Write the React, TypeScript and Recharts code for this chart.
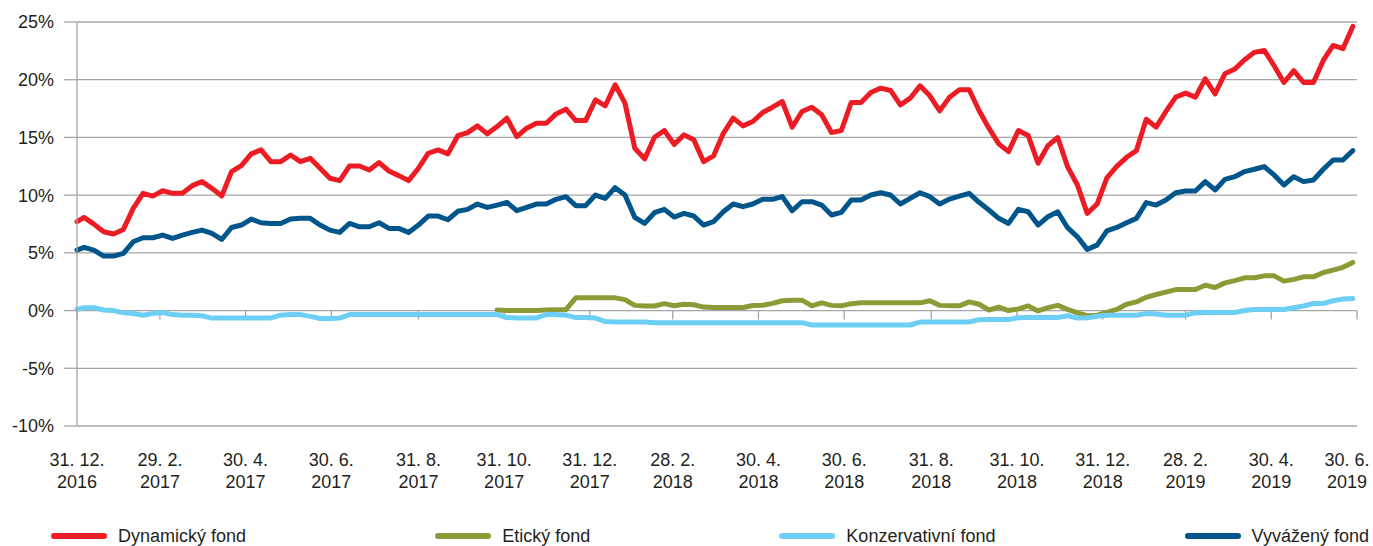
import React from 'react';
import { LineChart, Line, XAxis, YAxis, CartesianGrid, ReferenceLine } from 'recharts';

const W = 1373;
const H = 546;

// x-axis ticks: day offsets from 31. 12. 2016
const tickDays = [0, 59, 120, 181, 243, 304, 365, 424, 485, 546, 608, 669, 730, 789, 850, 911];
const tickTop = ['31. 12.', '29. 2.', '30. 4.', '30. 6.', '31. 8.', '31. 10.', '31. 12.', '28. 2.', '30. 4.', '30. 6.', '31. 8.', '31. 10.', '31. 12.', '28. 2.', '30. 4.', '30. 6.'];
const tickBottom = ['2016', '2017', '2017', '2017', '2017', '2017', '2017', '2018', '2018', '2018', '2018', '2018', '2018', '2019', '2019', '2019'];

const yTicks = [-10, -5, 0, 5, 10, 15, 20, 25];

// valuation dates: 31. 12. 2016, then weekly Thursdays from 5. 1. 2017 (day offsets)
const dates = [0, ...Array.from({ length: 130 }, (_, k) => 5 + 7 * k)];

const seriesNames = ['Dynamický fond', 'Etický fond', 'Konzervativní fond', 'Vyvážený fond'];
const seriesColors = ['#ED1C24', '#8E9A35', '#6DCFF6', '#00558A'];

const dyn = [
  7.7, 8.07, 7.49, 6.83, 6.63, 7.03, 8.85, 10.16, 9.92, 10.39,
  10.16, 10.16, 10.82, 11.17, 10.59, 9.92, 12.04, 12.55, 13.57, 13.92,
  12.9, 12.9, 13.48, 12.9, 13.19, 12.33, 11.46, 11.26, 12.53, 12.53,
  12.18, 12.82, 12.09, 11.69, 11.26, 12.33, 13.63, 13.92, 13.57, 15.15,
  15.42, 16.0, 15.31, 15.94, 16.67, 15.07, 15.8, 16.23, 16.23, 17.04,
  17.45, 16.46, 16.46, 18.26, 17.74, 19.56, 17.97, 14.06, 13.14, 15.02,
  15.6, 14.4, 15.22, 14.79, 12.9, 13.4, 15.36, 16.67, 16.0, 16.38,
  17.16, 17.62, 18.11, 15.89, 17.25, 17.62, 16.96, 15.42, 15.6, 18.03,
  18.03, 18.89, 19.27, 19.07, 17.82, 18.4, 19.47, 18.6, 17.3, 18.49,
  19.13, 19.13, 17.33, 15.8, 14.44, 13.77, 15.6, 15.16, 12.76, 14.29,
  14.99, 12.47, 10.88, 8.42, 9.23, 11.5, 12.5, 13.28, 13.86, 16.58,
  15.89, 17.25, 18.49, 18.84, 18.49, 20.08, 18.78, 20.52, 20.92, 21.73,
  22.37, 22.54, 21.21, 19.76, 20.78, 19.76, 19.76, 21.67, 22.97, 22.69,
  24.62,
];

const vyv = [
  5.24, 5.47, 5.24, 4.72, 4.72, 4.95, 5.96, 6.31, 6.31, 6.54,
  6.25, 6.54, 6.77, 6.97, 6.68, 6.16, 7.2, 7.41, 7.93, 7.61,
  7.55, 7.55, 7.93, 7.99, 7.99, 7.41, 6.97, 6.77, 7.55, 7.26,
  7.26, 7.61, 7.12, 7.12, 6.77, 7.41, 8.19, 8.19, 7.87, 8.6,
  8.77, 9.23, 8.94, 9.14, 9.38, 8.65, 8.94, 9.23, 9.23, 9.64,
  9.87, 9.09, 9.09, 10.01, 9.72, 10.65, 10.01, 8.07, 7.55, 8.48,
  8.77, 8.1, 8.42, 8.19, 7.41, 7.7, 8.56, 9.23, 9.0, 9.23,
  9.64, 9.64, 9.87, 8.65, 9.43, 9.43, 9.14, 8.28, 8.51, 9.58,
  9.58, 10.01, 10.21, 10.01, 9.23, 9.72, 10.21, 9.87, 9.23, 9.66,
  9.92, 10.16, 9.38, 8.71, 7.99, 7.55, 8.77, 8.56, 7.41, 8.13,
  8.56, 7.18, 6.39, 5.3, 5.67, 6.9, 7.2, 7.61, 7.99, 9.35,
  9.14, 9.58, 10.21, 10.36, 10.36, 11.17, 10.45, 11.37, 11.6, 12.04,
  12.24, 12.47, 11.75, 10.88, 11.6, 11.17, 11.31, 12.24, 13.05, 13.05,
  13.86,
];

const eti = [
  null, null, null, null, null, null, null, null, null, null,
  null, null, null, null, null, null, null, null, null, null,
  null, null, null, null, null, null, null, null, null, null,
  null, null, null, null, null, null, null, null, null, null,
  null, null, null, 0.05, 0.0, 0.0, 0.0, 0.0, 0.05, 0.08,
  0.08, 1.1, 1.1, 1.1, 1.1, 1.1, 0.95, 0.45, 0.4, 0.4,
  0.6, 0.42, 0.55, 0.5, 0.3, 0.26, 0.26, 0.26, 0.26, 0.44,
  0.46, 0.62, 0.85, 0.9, 0.9, 0.41, 0.67, 0.45, 0.41, 0.6,
  0.67, 0.67, 0.67, 0.67, 0.67, 0.67, 0.67, 0.85, 0.45, 0.41,
  0.41, 0.75, 0.55, 0.05, 0.3, 0.0, 0.15, 0.4, -0.03, 0.25,
  0.45, 0.1, -0.2, -0.45, -0.4, -0.15, 0.1, 0.55, 0.75, 1.15,
  1.39, 1.6, 1.82, 1.82, 1.82, 2.2, 2.0, 2.4, 2.6, 2.84,
  2.84, 3.01, 3.01, 2.55, 2.7, 2.92, 2.92, 3.3, 3.5, 3.75,
  4.17,
];

const konz = [
  0.1, 0.25, 0.25, 0.05, 0.0, -0.2, -0.26, -0.4, -0.25, -0.17,
  -0.35, -0.4, -0.4, -0.45, -0.65, -0.65, -0.65, -0.65, -0.65, -0.64,
  -0.64, -0.4, -0.35, -0.35, -0.5, -0.69, -0.69, -0.65, -0.35, -0.35,
  -0.35, -0.35, -0.35, -0.35, -0.35, -0.35, -0.35, -0.35, -0.35, -0.35,
  -0.35, -0.35, -0.35, -0.35, -0.6, -0.64, -0.64, -0.64, -0.35, -0.35,
  -0.4, -0.61, -0.61, -0.65, -0.95, -0.98, -0.98, -1.0, -1.0, -1.05,
  -1.05, -1.05, -1.05, -1.05, -1.05, -1.05, -1.05, -1.05, -1.05, -1.05,
  -1.05, -1.05, -1.05, -1.05, -1.05, -1.25, -1.25, -1.25, -1.25, -1.25,
  -1.25, -1.25, -1.25, -1.25, -1.25, -1.25, -1.0, -0.98, -0.98, -0.98,
  -0.98, -0.98, -0.8, -0.78, -0.78, -0.78, -0.62, -0.61, -0.61, -0.61,
  -0.61, -0.45, -0.65, -0.62, -0.5, -0.4, -0.4, -0.4, -0.4, -0.25,
  -0.3, -0.4, -0.4, -0.4, -0.2, -0.17, -0.17, -0.17, -0.17, 0.0,
  0.09, 0.09, 0.09, 0.09, 0.25, 0.4, 0.61, 0.61, 0.85, 1.0,
  1.04,
];

const FONT = "'Liberation Sans', Arial, sans-serif";
const TEXT = '#231F20';
const GRID = '#A6A6A6';

const XTick = (props: any) => {
  const { x, y, payload } = props;
  const i = tickDays.indexOf(payload.value);
  // the last label is pulled inward so it stays inside the picture
  const shift = i === tickDays.length - 1 ? -10 : 0;
  return (
    <g transform={`translate(${x + shift},${y})`}>
      <text x={0} y={32} textAnchor="middle" fontSize={18} fill={TEXT} fontFamily={FONT}>
        {tickTop[i]}
      </text>
      <text x={0} y={54} textAnchor="middle" fontSize={18} fill={TEXT} fontFamily={FONT}>
        {tickBottom[i]}
      </text>
    </g>
  );
};

export default function App() {
  const data = dates.map((d, i) => ({ d, dyn: dyn[i], eti: eti[i], konz: konz[i], vyv: vyv[i] }));
  const keys = ['dyn', 'eti', 'konz', 'vyv'];
  return (
    <div style={{ position: 'absolute', left: 0, top: 0, width: W, height: H, background: '#fff', fontFamily: FONT }}>
      <LineChart width={W} height={H} data={data} margin={{ top: 22, right: 16, bottom: 0, left: 0 }}>
        <CartesianGrid vertical={false} stroke={GRID} strokeWidth={1.3} />
        <XAxis
          type="number"
          dataKey="d"
          domain={[0, 911]}
          ticks={tickDays}
          interval={0}
          tickLine={false}
          axisLine={false}
          height={120}
          tick={<XTick />}
        />
        <YAxis
          domain={[-10, 25]}
          ticks={yTicks}
          interval={0}
          width={77}
          tickSize={13}
          tickMargin={10}
          axisLine={{ stroke: GRID, strokeWidth: 1.3 }}
          tickLine={{ stroke: GRID, strokeWidth: 1.3 }}
          tickFormatter={(v: number) => `${v}%`}
          tick={{ fill: TEXT, fontSize: 18, fontFamily: FONT }}
        />
        {tickDays.map((d) => (
          <ReferenceLine key={d} segment={[{ x: d, y: 0 }, { x: d, y: -0.78 }]} stroke={GRID} strokeWidth={1.3} />
        ))}
        {keys.map((k, i) => (
          <Line
            key={k}
            type="linear"
            dataKey={k}
            name={seriesNames[i]}
            stroke={seriesColors[i]}
            strokeWidth={5}
            strokeLinejoin="round"
            strokeLinecap="round"
            dot={false}
            activeDot={false}
            isAnimationActive={false}
          />
        ))}
      </LineChart>
      <div
        style={{
          position: 'absolute',
          left: 51,
          right: 4,
          top: 525,
          height: 22,
          display: 'flex',
          justifyContent: 'space-between',
          alignItems: 'center',
        }}
      >
        {seriesNames.map((n, i) => (
          <div key={n} style={{ display: 'flex', alignItems: 'center' }}>
            <div style={{ width: 56, height: 6, borderRadius: 3, background: seriesColors[i], marginRight: 11 }} />
            <span style={{ fontSize: 18, color: TEXT, fontFamily: FONT, whiteSpace: 'nowrap' }}>{n}</span>
          </div>
        ))}
      </div>
    </div>
  );
}
